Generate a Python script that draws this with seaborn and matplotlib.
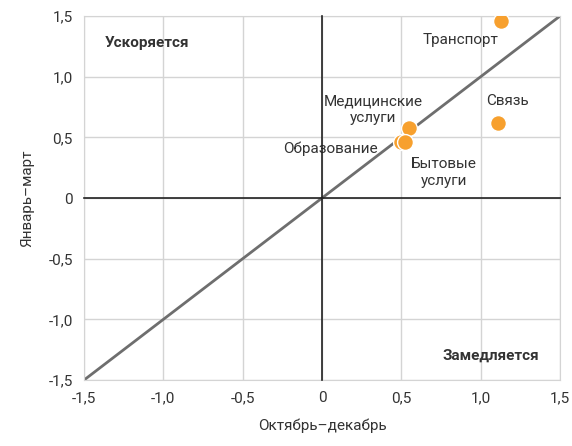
import numpy as np
import pandas as pd
import matplotlib
matplotlib.use("Agg")
import matplotlib.pyplot as plt
import seaborn as sns

sns.set_style("white")
plt.rcParams['font.family'] = ['Roboto', 'DejaVu Sans']

# data
sectors = ['Транспорт', 'Связь', 'Медицинские\nуслуги', 'Образование', 'Бытовые\nуслуги']
oct_dec = [1.13, 1.11, 0.55, 0.50, 0.52]
jan_mar = [1.46, 0.62, 0.58, 0.46, 0.46]
ticks = [-1.5, -1.0, -0.5, 0, 0.5, 1.0, 1.5]
tick_labels = ['-1,5', '-1,0', '-0,5', '0', '0,5', '1,0', '1,5']
diag = [-1.5, 1.5]

df = pd.DataFrame({'x': oct_dec, 'y': jan_mar, 'name': sectors})

text_c = '#333333'
fs = 11
fig = plt.figure(figsize=(5.72, 4.46), dpi=100)
ax = fig.add_axes([0.147, 0.148, 0.832, 0.816])

ax.set_xlim(-1.5, 1.5)
ax.set_ylim(-1.5, 1.5)
ax.set_xticks(ticks)
ax.set_yticks(ticks)
ax.set_xticklabels(tick_labels)
ax.set_yticklabels(tick_labels)
ax.grid(True, color='#d4d4d4', lw=1)
ax.set_axisbelow(True)
for s in ax.spines.values():
    s.set_color('#d4d4d4')
ax.tick_params(length=0, labelsize=fs, colors=text_c, pad=8)

ax.plot(diag, diag, color='#6e6e6e', lw=2, zorder=2)

sns.scatterplot(data=df, x='x', y='y', ax=ax, color='#f7a02e', s=130,
                edgecolor='white', linewidth=1, zorder=3, legend=False)

# labels for points
lbl_pos = {
    'Транспорт': (0.87, 1.30),
    'Связь': (1.17, 0.80),
    'Медицинские\nуслуги': (0.32, 0.73),
    'Образование': (0.05, 0.405),
    'Бытовые\nуслуги': (0.77, 0.21),
}
for name in sectors:
    tx, ty = lbl_pos[name]
    ax.text(tx, ty, name, ha='center', va='center', fontsize=fs, color=text_c,
            linespacing=1.25, zorder=4)

ax.text(-1.37, 1.28, 'Ускоряется', fontweight='bold', fontsize=fs,
        color=text_c, ha='left', va='center')
ax.text(1.37, -1.30, 'Замедляется', fontweight='bold', fontsize=fs,
        color=text_c, ha='right', va='center')

ax.set_xlabel('Октябрь–декабрь', fontsize=fs, color=text_c, labelpad=10)
ax.set_ylabel('Январь–март', fontsize=fs, color=text_c, labelpad=10)

# zero axes with small ticks, drawn on top of the grid
ax2 = fig.add_axes(ax.get_position(), facecolor='none')
ax2.set_xlim(-1.5, 1.5)
ax2.set_ylim(-1.5, 1.5)
ax2.set_xticks(ticks)
ax2.set_yticks(ticks)
ax2.set_xticklabels([])
ax2.set_yticklabels([])
ax2.spines['left'].set_position(('data', 0))
ax2.spines['bottom'].set_position(('data', 0))
ax2.spines['top'].set_visible(False)
ax2.spines['right'].set_visible(False)
for k in ['left', 'bottom']:
    ax2.spines[k].set_color('#222222')
    ax2.spines[k].set_linewidth(1.2)
ax2.tick_params(length=3, width=1, color='#222222', direction='out')

fig.savefig('out.png', dpi=100)
